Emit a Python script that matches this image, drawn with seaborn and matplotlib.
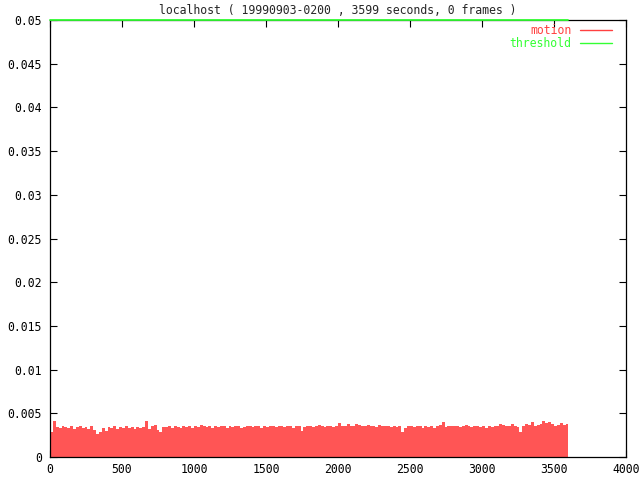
import numpy as np
import pandas as pd
import matplotlib
matplotlib.use("Agg")
import matplotlib.pyplot as plt
import seaborn as sns

title = "localhost ( 19990903-0200 , 3599 seconds, 0 frames )"
bin_seconds = 20
motion = [
    0.0029, 0.0041, 0.0034, 0.0033, 0.0035,
    0.0034, 0.0033, 0.0035, 0.0032, 0.0034, 0.0036, 0.0033, 0.0034, 0.0032, 0.0035,
    0.0031, 0.0026, 0.0029, 0.0033, 0.0030,
    0.0034, 0.0033, 0.0035, 0.0032, 0.0034, 0.0033, 0.0035, 0.0033, 0.0034, 0.0032,
    0.0034, 0.0033, 0.0034, 0.0041, 0.0032,
    0.0035, 0.0037, 0.0031, 0.0029, 0.0034,
    0.0034, 0.0035, 0.0033, 0.0036, 0.0034, 0.0033, 0.0035, 0.0034, 0.0036, 0.0033,
    0.0035, 0.0034, 0.0037, 0.0036, 0.0034, 0.0035, 0.0033, 0.0036, 0.0034, 0.0035,
    0.0036, 0.0033, 0.0035, 0.0034, 0.0036, 0.0035, 0.0033, 0.0034, 0.0036, 0.0035,
    0.0034, 0.0036, 0.0035, 0.0033, 0.0035, 0.0034, 0.0036, 0.0035, 0.0034, 0.0036,
    0.0035, 0.0034, 0.0036, 0.0035, 0.0033, 0.0035, 0.0036, 0.0030, 0.0034, 0.0035,
    0.0036, 0.0034, 0.0035, 0.0037, 0.0035, 0.0034, 0.0036, 0.0035, 0.0034, 0.0036,
    0.0039, 0.0035, 0.0036, 0.0038, 0.0036, 0.0035, 0.0038, 0.0037, 0.0035, 0.0036,
    0.0037, 0.0035, 0.0036, 0.0034, 0.0037, 0.0036, 0.0035, 0.0036, 0.0034, 0.0035,
    0.0034, 0.0036, 0.0029, 0.0033, 0.0036, 0.0035, 0.0034, 0.0036, 0.0035, 0.0033,
    0.0035, 0.0034, 0.0036, 0.0033, 0.0035, 0.0037, 0.0040, 0.0034, 0.0036, 0.0035,
    0.0035, 0.0036, 0.0034, 0.0036, 0.0037, 0.0035, 0.0034, 0.0036, 0.0035, 0.0034,
    0.0035, 0.0033, 0.0036, 0.0034, 0.0035, 0.0036, 0.0038, 0.0037, 0.0035, 0.0036,
    0.0038, 0.0036, 0.0034, 0.0029, 0.0036, 0.0038, 0.0037, 0.0040, 0.0036, 0.0037,
    0.0038, 0.0041, 0.0039, 0.0040, 0.0038, 0.0036, 0.0037, 0.0039, 0.0037, 0.0038,
]
threshold_x = [0, 3599]
threshold_y = [0.05, 0.05]
x_ticks = [0, 500, 1000, 1500, 2000, 2500, 3000, 3500, 4000]
y_ticks = [0, 0.005, 0.01, 0.015, 0.02, 0.025, 0.03, 0.035, 0.04, 0.045, 0.05]
y_tick_labels = ["0", "0.005", "0.01", "0.015", "0.02", "0.025", "0.03",
                 "0.035", "0.04", "0.045", "0.05"]

sns.set_style("white")
plt.rcParams["font.family"] = ["DejaVu Sans Mono"]
FS = 8.3

times = np.arange(len(motion)) * bin_seconds + bin_seconds / 2
df = pd.DataFrame({"t": times, "motion": motion})

fig = plt.figure(figsize=(6.4, 4.8), dpi=100)
ax = fig.add_axes([50 / 640, 23 / 480, 576 / 640, 437 / 480])

sns.histplot(data=df, x="t", weights="motion", binwidth=bin_seconds,
             binrange=(0, len(motion) * bin_seconds), element="bars",
             color="#ff5555", alpha=1.0, linewidth=0, ax=ax, legend=False)

red_handle = plt.Line2D([], [], color="#ff4040", lw=1)
sns.lineplot(x=threshold_x, y=threshold_y, color="#33ff33", lw=1.3, ax=ax,
             clip_on=False, zorder=5)

ax.set_xlim(0, 4000)
ax.set_ylim(0, 0.05)
ax.set_xticks(x_ticks)
ax.set_xticklabels([str(v) for v in x_ticks], fontsize=FS)
ax.set_yticks(y_ticks)
ax.set_yticklabels(y_tick_labels, fontsize=FS)
ax.set_xlabel("")
ax.set_ylabel("")
ax.tick_params(direction="in", length=5, width=0.8, top=True, right=True,
               bottom=True, left=True, labeltop=False, labelright=False,
               colors="black")
ax.tick_params(axis="y", pad=6)
ax.tick_params(axis="x", pad=4)
for s in ax.spines.values():
    s.set_color("black")
    s.set_linewidth(0.9)
    s.set_visible(True)

ax.set_title(title, fontsize=FS, pad=4)

green_handle = plt.Line2D([], [], color="#33ff33", lw=1)
leg = ax.legend([red_handle, green_handle], ["motion", "threshold"],
                loc="upper right", bbox_to_anchor=((612 - 50) / 576, 1 - 4 / 437),
                frameon=False, markerfirst=False, fontsize=FS,
                handlelength=2.8, handletextpad=0.7, labelspacing=0.0,
                borderpad=0, borderaxespad=0,
                labelcolor=["#ff4040", "#33ff33"])

fig.savefig("out.png", dpi=100)
